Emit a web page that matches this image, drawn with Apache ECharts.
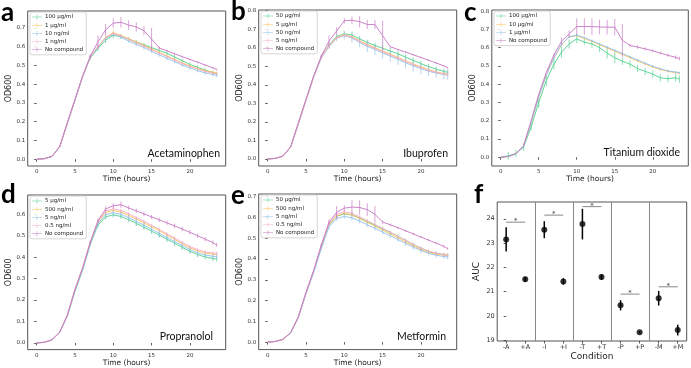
<!DOCTYPE html>
<html>
<head>
<meta charset="utf-8">
<script src="https://cdn.jsdelivr.net/npm/echarts@6/dist/echarts.min.js"></script>
<style>
  html, body { margin: 0; padding: 0; background: #fff; }
  #chart { width: 691px; height: 368px; }
</style>
</head>
<body>
<div id="chart"></div>
<script>
// time points (hours)
var hours = [0,1,2,3,4,5,6,7,8,9,10,11,12,13,14,15,16,17,18,19,20,21,22,23,23.5];
var timeTicks = [0,5,10,15,20];

// a - Acetaminophen
var aNames = ['100 μg/ml', '1 μg/ml', '10 ng/ml', '1 ng/ml', 'No compound'];
var aVals = [
  [0,0.003,0.015,0.065,0.19,0.315,0.44,0.54,0.59,0.635,0.66,0.655,0.64,0.625,0.61,0.595,0.58,0.565,0.545,0.525,0.505,0.49,0.475,0.462,0.455],
  [0,0.003,0.015,0.066,0.192,0.318,0.443,0.545,0.6,0.65,0.675,0.66,0.642,0.625,0.607,0.588,0.57,0.55,0.532,0.513,0.497,0.483,0.472,0.463,0.46],
  [0,0.003,0.015,0.065,0.19,0.315,0.44,0.545,0.6,0.645,0.665,0.65,0.63,0.612,0.595,0.575,0.556,0.538,0.52,0.502,0.487,0.472,0.46,0.451,0.447],
  [0,0.003,0.015,0.066,0.19,0.316,0.442,0.545,0.6,0.648,0.67,0.657,0.638,0.62,0.602,0.583,0.565,0.547,0.528,0.51,0.494,0.48,0.468,0.458,0.455],
  [0,0.003,0.016,0.068,0.195,0.32,0.445,0.55,0.625,0.69,0.725,0.73,0.715,0.705,0.685,0.64,0.593,0.578,0.562,0.547,0.532,0.517,0.502,0.487,0.478]
];
var aErrs = [
  [0,0,0,0,0,0,0,0.01,0.015,0.015,0.015,0.012,0.01,0.01,0.01,0.01,0.01,0.01,0.01,0.01,0.01,0.01,0.01,0.01,0.01],
  [0,0,0,0,0,0,0,0.008,0.01,0.01,0.01,0.008,0.008,0.008,0.008,0.008,0.008,0.008,0.008,0.008,0.008,0.008,0.008,0.008,0.008],
  [0,0,0,0,0,0,0,0.008,0.01,0.012,0.01,0.01,0.01,0.01,0.01,0.01,0.01,0.01,0.01,0.01,0.01,0.01,0.01,0.01,0.01],
  [0,0,0,0,0,0,0,0.006,0.008,0.008,0.008,0.006,0.006,0.006,0.006,0.006,0.006,0.006,0.006,0.006,0.006,0.006,0.006,0.006,0.006],
  [0,0,0,0,0,0,0,0.01,0.035,0.03,0.025,0.028,0.025,0.025,0.025,0.06,0.008,0.005,0.005,0.005,0.005,0.005,0.005,0.005,0.005]
];

// b - Ibuprofen
var bNames = ['50 μg/ml', '5 μg/ml', '50 ng/ml', '5 ng/ml', 'No compound'];
var bVals = [
  [0,0.003,0.015,0.065,0.19,0.318,0.445,0.55,0.615,0.66,0.675,0.668,0.648,0.628,0.612,0.597,0.582,0.567,0.549,0.532,0.514,0.498,0.484,0.472,0.467],
  [0,0.003,0.015,0.065,0.19,0.317,0.443,0.548,0.61,0.655,0.67,0.66,0.638,0.618,0.6,0.582,0.565,0.548,0.53,0.512,0.496,0.482,0.47,0.46,0.457],
  [0,0.003,0.015,0.064,0.188,0.315,0.44,0.545,0.605,0.65,0.665,0.652,0.628,0.607,0.59,0.572,0.554,0.537,0.518,0.502,0.487,0.473,0.463,0.455,0.452],
  [0,0.003,0.015,0.065,0.19,0.316,0.442,0.547,0.608,0.652,0.668,0.656,0.634,0.613,0.595,0.578,0.56,0.543,0.525,0.508,0.492,0.478,0.467,0.458,0.455],
  [0,0.003,0.016,0.067,0.195,0.322,0.448,0.555,0.635,0.69,0.745,0.748,0.74,0.725,0.725,0.665,0.605,0.59,0.576,0.562,0.547,0.532,0.517,0.502,0.492]
];
var bErrs = [
  [0,0,0,0,0,0,0,0.008,0.012,0.015,0.015,0.018,0.015,0.015,0.015,0.015,0.015,0.015,0.015,0.015,0.015,0.015,0.015,0.015,0.015],
  [0,0,0,0,0,0,0,0.006,0.008,0.008,0.008,0.008,0.008,0.008,0.008,0.008,0.008,0.008,0.008,0.008,0.008,0.008,0.008,0.008,0.008],
  [0,0,0,0,0,0,0,0.008,0.012,0.015,0.02,0.025,0.025,0.03,0.03,0.03,0.03,0.03,0.03,0.03,0.03,0.025,0.025,0.025,0.025],
  [0,0,0,0,0,0,0,0.006,0.008,0.008,0.008,0.008,0.008,0.008,0.008,0.008,0.008,0.008,0.008,0.008,0.008,0.008,0.008,0.008,0.008],
  [0,0,0,0,0,0,0,0.01,0.03,0.02,0.015,0.02,0.03,0.025,0.025,0.08,0.005,0.005,0.005,0.005,0.005,0.005,0.005,0.005,0.005]
];

// c - Titanium dioxide
var cNames = ['100 μg/ml', '10 μg/ml', '1 μg/ml', 'No compound'];
var cVals = [
  [0,0.008,0.02,0.055,0.165,0.3,0.42,0.51,0.575,0.62,0.648,0.63,0.62,0.6,0.57,0.545,0.525,0.51,0.485,0.47,0.455,0.435,0.43,0.435,0.428],
  [0,0.004,0.018,0.06,0.19,0.33,0.45,0.545,0.615,0.66,0.665,0.65,0.634,0.615,0.598,0.58,0.563,0.545,0.527,0.51,0.494,0.48,0.47,0.463,0.46],
  [0,0.004,0.018,0.06,0.19,0.33,0.45,0.545,0.618,0.66,0.668,0.655,0.638,0.62,0.603,0.585,0.568,0.55,0.532,0.515,0.498,0.484,0.473,0.466,0.463],
  [0,0.004,0.02,0.062,0.2,0.345,0.465,0.56,0.635,0.675,0.715,0.716,0.715,0.713,0.712,0.712,0.64,0.612,0.603,0.593,0.583,0.57,0.558,0.547,0.54]
];
var cErrs = [
  [0,0.02,0.02,0.02,0.02,0.03,0.03,0.03,0.03,0.025,0.025,0.015,0.02,0.025,0.03,0.03,0.02,0.02,0.02,0.02,0.02,0.02,0.02,0.02,0.02],
  [0,0,0,0,0,0,0,0.005,0.006,0.006,0.006,0.006,0.006,0.006,0.006,0.006,0.006,0.006,0.006,0.006,0.006,0.006,0.006,0.006,0.006],
  [0,0,0,0,0,0,0,0.005,0.006,0.006,0.006,0.006,0.006,0.006,0.006,0.006,0.006,0.006,0.006,0.006,0.006,0.006,0.006,0.006,0.006],
  [0,0,0,0,0,0,0,0.01,0.02,0.02,0.045,0.045,0.045,0.04,0.04,0.045,0.09,0.01,0.01,0.008,0.008,0.008,0.008,0.01,0.01]
];

// d - Propranolol
var dNames = ['5 μg/ml', '500 ng/ml', '5 ng/ml', '0.5 ng/ml', 'No compound'];
var dVals = [
  [0,0.003,0.015,0.048,0.125,0.24,0.34,0.46,0.55,0.588,0.597,0.59,0.575,0.558,0.54,0.521,0.503,0.484,0.465,0.446,0.428,0.412,0.401,0.394,0.391],
  [0,0.003,0.015,0.05,0.13,0.25,0.35,0.47,0.565,0.608,0.618,0.61,0.595,0.578,0.56,0.542,0.523,0.503,0.483,0.463,0.444,0.429,0.419,0.414,0.413],
  [0,0.003,0.015,0.049,0.128,0.245,0.345,0.465,0.558,0.598,0.607,0.6,0.585,0.567,0.549,0.53,0.511,0.492,0.473,0.454,0.436,0.42,0.41,0.404,0.403],
  [0,0.003,0.015,0.05,0.13,0.25,0.352,0.472,0.568,0.615,0.626,0.618,0.603,0.585,0.567,0.548,0.529,0.509,0.489,0.469,0.45,0.435,0.425,0.419,0.418],
  [0,0.003,0.015,0.05,0.13,0.25,0.35,0.47,0.57,0.625,0.64,0.645,0.63,0.616,0.602,0.588,0.574,0.56,0.546,0.531,0.516,0.5,0.484,0.468,0.457]
];
var dErrs = [
  [0,0,0,0,0,0,0,0.008,0.012,0.012,0.012,0.012,0.012,0.012,0.012,0.012,0.012,0.012,0.012,0.012,0.012,0.012,0.012,0.012,0.012],
  [0,0,0,0,0,0,0,0.006,0.008,0.008,0.008,0.008,0.008,0.008,0.008,0.008,0.008,0.008,0.008,0.008,0.008,0.008,0.008,0.008,0.008],
  [0,0,0,0,0,0,0,0.008,0.012,0.015,0.015,0.015,0.015,0.018,0.018,0.018,0.018,0.018,0.018,0.018,0.015,0.015,0.012,0.012,0.012],
  [0,0,0,0,0,0,0,0.006,0.008,0.008,0.008,0.008,0.008,0.008,0.008,0.008,0.008,0.008,0.008,0.008,0.008,0.008,0.008,0.008,0.008],
  [0,0,0,0,0,0,0,0.006,0.01,0.012,0.012,0.015,0.01,0.01,0.01,0.01,0.01,0.01,0.01,0.01,0.01,0.01,0.01,0.01,0.01]
];

// e - Metformin
var eNames = ['50 μg/ml', '500 ng/ml', '5 ng/ml', '0.5 ng/ml', 'No compound'];
var eVals = [
  [0,0.003,0.013,0.045,0.12,0.235,0.34,0.46,0.565,0.605,0.618,0.612,0.597,0.58,0.563,0.546,0.528,0.51,0.49,0.47,0.452,0.437,0.427,0.421,0.419],
  [0,0.003,0.013,0.045,0.12,0.235,0.34,0.46,0.565,0.607,0.62,0.612,0.595,0.577,0.558,0.54,0.521,0.502,0.482,0.463,0.446,0.432,0.423,0.419,0.418],
  [0,0.003,0.013,0.044,0.118,0.232,0.335,0.45,0.555,0.595,0.605,0.598,0.583,0.565,0.548,0.53,0.512,0.494,0.475,0.457,0.441,0.428,0.418,0.412,0.41],
  [0,0.003,0.013,0.046,0.122,0.238,0.345,0.465,0.572,0.615,0.628,0.62,0.603,0.585,0.566,0.548,0.529,0.51,0.49,0.471,0.453,0.438,0.428,0.422,0.42],
  [0,0.003,0.014,0.046,0.122,0.24,0.345,0.468,0.578,0.625,0.645,0.65,0.648,0.638,0.615,0.578,0.565,0.551,0.536,0.521,0.506,0.491,0.476,0.461,0.45]
];
var eErrs = [
  [0,0,0,0,0,0,0,0.006,0.008,0.008,0.008,0.008,0.008,0.008,0.008,0.008,0.008,0.008,0.008,0.008,0.008,0.008,0.008,0.008,0.008],
  [0,0,0,0,0,0,0,0.006,0.008,0.008,0.008,0.008,0.008,0.008,0.008,0.008,0.008,0.008,0.008,0.008,0.008,0.008,0.008,0.008,0.008],
  [0,0,0,0,0,0,0,0.008,0.012,0.012,0.012,0.012,0.012,0.012,0.012,0.012,0.012,0.012,0.012,0.012,0.012,0.012,0.012,0.012,0.012],
  [0,0,0,0,0,0,0,0.006,0.008,0.008,0.008,0.008,0.008,0.008,0.008,0.008,0.008,0.008,0.008,0.008,0.008,0.008,0.008,0.008,0.008],
  [0,0,0,0,0,0,0,0.006,0.012,0.03,0.015,0.035,0.035,0.03,0.04,0.008,0.006,0.006,0.006,0.006,0.006,0.006,0.006,0.006,0.006]
];

// f - AUC
var aucLabels = ['-A', '+A', '-I', '+I', '-T', '+T', '-P', '+P', '-M', '+M'];
var aucMean = [23.15, 21.51, 23.55, 21.42, 23.78, 21.6, 20.44, 19.33, 20.73, 19.42];
var aucErr = [0.5, 0.1, 0.35, 0.13, 0.63, 0.12, 0.21, 0.04, 0.3, 0.22];
var sigPairs = [[0, 1, 23.86], [2, 3, 24.15], [4, 5, 24.5], [6, 7, 20.9], [8, 9, 21.2]];
var aucTicks = [19, 20, 21, 22, 23, 24];
var dividers = [1.5, 3.5, 5.5, 7.5];

var col5 = ['#4fd08c', '#fdbf5a', '#8fc1ec', '#f5afc4', '#c677c4'];
var col4 = ['#4fd08c', '#fdbf5a', '#8fc1ec', '#c677c4'];

var panels = [
  {key: 'a', names: aNames, vals: aVals, errs: aErrs, colors: col5, label: 'Acetaminophen',
   grid: {left: 27.7, top: 11, width: 198, height: 155}, ymin: -0.036, ymax: 0.79, yticks: [0,0.1,0.2,0.3,0.4,0.5,0.6,0.7],
   legend: {left: 30, top: 12}, letter: {left: 1, top: -1}, lab: {right: 471, top: 147}},
  {key: 'b', names: bNames, vals: bVals, errs: bErrs, colors: col5, label: 'Ibuprofen',
   grid: {left: 258.7, top: 10, width: 198, height: 156}, ymin: -0.038, ymax: 0.803, yticks: [0,0.1,0.2,0.3,0.4,0.5,0.6,0.7,0.8],
   legend: {left: 261, top: 11}, letter: {left: 231, top: -2}, lab: {right: 243, top: 147}},
  {key: 'c', names: cNames, vals: cVals, errs: cErrs, colors: col4, label: 'Titanium dioxide',
   grid: {left: 491.8, top: 10, width: 196.5, height: 156}, ymin: -0.048, ymax: 0.806, yticks: [0,0.1,0.2,0.3,0.4,0.5,0.6,0.7,0.8],
   legend: {left: 494, top: 11}, letter: {left: 464, top: -1}, lab: {right: 11, top: 146}},
  {key: 'd', names: dNames, vals: dVals, errs: dErrs, colors: col5, label: 'Propranolol',
   grid: {left: 27.7, top: 195, width: 198, height: 155}, ymin: -0.031, ymax: 0.69, yticks: [0,0.1,0.2,0.3,0.4,0.5,0.6],
   legend: {left: 30, top: 196}, letter: {left: 1, top: 181}, lab: {right: 478, top: 330}},
  {key: 'e', names: eNames, vals: eVals, errs: eErrs, colors: col5, label: 'Metformin',
   grid: {left: 258.7, top: 194, width: 198, height: 157}, ymin: -0.036, ymax: 0.713, yticks: [0,0.1,0.2,0.3,0.4,0.5,0.6,0.7],
   legend: {left: 261, top: 195}, letter: {left: 231, top: 182}, lab: {right: 245, top: 330}}
];

var tickFont = {fontSize: 5.5, color: '#333', fontFamily: 'DejaVu Sans', margin: 2.5};

var grids = [], xAxes = [], yAxes = [], series = [], legends = [], titles = [];

function errBarRender(color, width, opacity) {
  return function (params, api) {
    var x = api.value(0), lo = api.value(1), hi = api.value(2);
    if (hi - lo <= 0) return;
    var p1 = api.coord([x, lo]), p2 = api.coord([x, hi]);
    return {
      type: 'line',
      shape: {x1: p1[0], y1: p1[1], x2: p2[0], y2: p2[1]},
      style: {stroke: color, lineWidth: width, opacity: opacity}
    };
  };
}

panels.forEach(function (p, i) {
  grids.push({show: true, left: p.grid.left, top: p.grid.top, width: p.grid.width, height: p.grid.height,
    borderColor: '#555', borderWidth: 1, backgroundColor: '#fff', containLabel: false});
  xAxes.push({type: 'value', gridIndex: i, min: -1.175, max: 24.675,
    name: 'Time (hours)', nameLocation: 'middle', nameGap: 9,
    nameTextStyle: {fontSize: 7.5, color: '#222', fontFamily: 'DejaVu Sans'},
    axisLine: {show: false}, splitLine: {show: false},
    axisTick: {show: true, length: 2.5, lineStyle: {color: '#333', width: 0.8}, customValues: timeTicks},
    axisLabel: Object.assign({customValues: timeTicks, formatter: function (v) { return String(v); }}, tickFont)});
  yAxes.push({type: 'value', gridIndex: i, min: p.ymin, max: p.ymax,
    name: 'OD600', nameLocation: 'middle', nameGap: 13, nameRotate: 90,
    nameTextStyle: {fontSize: 8, color: '#222', fontFamily: 'DejaVu Sans'},
    axisLine: {show: false}, splitLine: {show: false},
    axisTick: {show: true, length: 2.5, lineStyle: {color: '#333', width: 0.8}, customValues: p.yticks},
    axisLabel: Object.assign({customValues: p.yticks, formatter: function (v) { return v.toFixed(1); }}, tickFont)});

  var legendData = [];
  p.names.forEach(function (nm, j) {
    var sname = p.key + ':' + nm;
    legendData.push(sname);
    series.push({type: 'custom', xAxisIndex: i, yAxisIndex: i, silent: true, z: 2 + j,
      encode: {x: 0, y: [1, 2]},
      renderItem: errBarRender(p.colors[j], 0.9, 0.75),
      data: hours.map(function (t, k) { return [t, p.vals[j][k] - p.errs[j][k], p.vals[j][k] + p.errs[j][k]]; })});
    series.push({type: 'line', name: sname, xAxisIndex: i, yAxisIndex: i, z: 2 + j,
      showSymbol: false, symbol: 'none',
      lineStyle: {width: 1, color: p.colors[j], opacity: 0.9},
      itemStyle: {color: p.colors[j]},
      data: hours.map(function (t, k) { return [t, p.vals[j][k]]; })});
  });

  legends.push({data: legendData, orient: 'vertical', left: p.legend.left, top: p.legend.top,
    icon: 'path://M0,4.5h20v1h-20z M9.5,0h1v10h-1z', itemWidth: 10, itemHeight: 5, itemGap: 2.2,
    padding: [2, 3, 2, 2], borderColor: '#ccc', borderWidth: 0.8, borderRadius: 2,
    backgroundColor: 'rgba(255,255,255,0.85)', selectedMode: false, z: 10,
    textStyle: {fontSize: 5.5, color: '#222', fontFamily: 'DejaVu Sans', padding: [0, 0, 0, -2]},
    formatter: function (name) { return name.slice(name.indexOf(':') + 1); }});

  titles.push({text: p.key, left: p.letter.left, top: p.letter.top, padding: 0,
    textStyle: {fontSize: 26, fontWeight: 'bold', color: '#000', fontFamily: 'Lato', lineHeight: 28}});
  titles.push({text: p.label, right: p.lab.right, top: p.lab.top, padding: 0,
    textStyle: {fontSize: 10.5, fontWeight: 'normal', color: '#111', fontFamily: 'Lato', lineHeight: 13}});
});

// panel f
var fi = panels.length;
grids.push({show: true, left: 497.2, top: 202, width: 189.5, height: 139,
  borderColor: '#555', borderWidth: 1, backgroundColor: '#fff'});
xAxes.push({type: 'value', gridIndex: fi, min: -0.47, max: 9.47,
  name: 'Condition', nameLocation: 'middle', nameGap: 11,
  nameTextStyle: {fontSize: 9, color: '#222', fontFamily: 'DejaVu Sans'},
  axisLine: {show: false}, splitLine: {show: false},
  axisTick: {show: true, length: 2.5, lineStyle: {color: '#333', width: 0.8}, customValues: [0,1,2,3,4,5,6,7,8,9]},
  axisLabel: Object.assign({customValues: [0,1,2,3,4,5,6,7,8,9], formatter: function (v) { return aucLabels[Math.round(v)]; }}, tickFont, {fontSize: 6.5})});
yAxes.push({type: 'value', gridIndex: fi, min: 18.97, max: 24.69,
  name: 'AUC', nameLocation: 'middle', nameGap: 16, nameRotate: 90,
  nameTextStyle: {fontSize: 9, color: '#222', fontFamily: 'DejaVu Sans'},
  axisLine: {show: false}, splitLine: {show: false},
  axisTick: {show: true, length: 2.5, lineStyle: {color: '#333', width: 0.8}, customValues: aucTicks},
  axisLabel: Object.assign({customValues: aucTicks, formatter: function (v) { return String(v); }}, tickFont, {fontSize: 6.5})});

series.push({type: 'custom', xAxisIndex: fi, yAxisIndex: fi, silent: true, z: 3,
  encode: {x: 0, y: [1, 2]},
  renderItem: errBarRender('#000', 1.5, 1),
  data: aucMean.map(function (m, k) { return [k, m - aucErr[k], m + aucErr[k]]; }),
  markLine: {silent: true, symbol: ['none', 'none'], label: {show: false},
    lineStyle: {color: '#888', width: 1, type: 'solid'},
    data: dividers.map(function (d) { return {xAxis: d}; })}});
series.push({type: 'scatter', xAxisIndex: fi, yAxisIndex: fi, z: 4, symbolSize: 6,
  itemStyle: {color: '#000'},
  data: aucMean.map(function (m, k) { return [k, m]; })});
series.push({type: 'custom', xAxisIndex: fi, yAxisIndex: fi, silent: true, z: 3,
  encode: {x: [0, 1], y: 2},
  renderItem: function (params, api) {
    var p1 = api.coord([api.value(0), api.value(2)]);
    var p2 = api.coord([api.value(1), api.value(2)]);
    return {type: 'group', children: [
      {type: 'line', shape: {x1: p1[0], y1: p1[1], x2: p2[0], y2: p2[1]},
       style: {stroke: '#888', lineWidth: 1}},
      {type: 'text', style: {text: '*', x: (p1[0] + p2[0]) / 2, y: p1[1] + 3, align: 'center',
       verticalAlign: 'bottom', fontSize: 7, fill: '#444', fontFamily: 'DejaVu Sans'}}
    ]};
  },
  data: sigPairs});
titles.push({text: 'f', left: 474, top: 181, padding: 0,
  textStyle: {fontSize: 26, fontWeight: 'bold', color: '#000', fontFamily: 'Lato', lineHeight: 28}});

var chart = echarts.init(document.getElementById('chart'), null, {renderer: 'canvas'});
chart.setOption({
  animation: false,
  backgroundColor: '#fff',
  title: titles,
  legend: legends,
  grid: grids,
  xAxis: xAxes,
  yAxis: yAxes,
  series: series
});
</script>
</body>
</html>
